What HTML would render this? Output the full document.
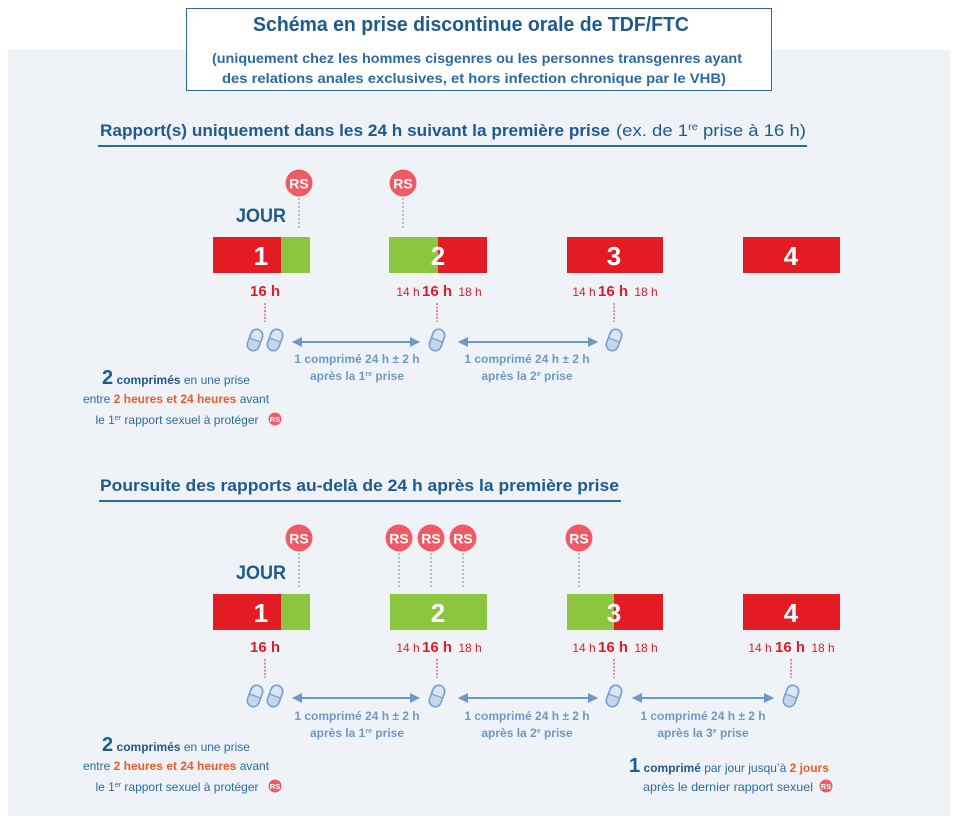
<!DOCTYPE html>
<html><head><meta charset="utf-8"><style>
html,body{margin:0;padding:0;background:#fff;}
svg{display:block;font-family:"Liberation Sans",sans-serif;}
.b{font-weight:bold}
</style></head><body>
<svg width="956" height="818" viewBox="0 0 956 818" xmlns="http://www.w3.org/2000/svg">
<defs>
<g id="pill">
  <g transform="rotate(20)">
    <rect x="-6" y="-11" width="12" height="22" rx="6" fill="#dbe6f4" stroke="#7a9fcf" stroke-width="1.5"/>
    <path d="M-6 0 V5 A6 6 0 0 0 6 5 V0 Z" fill="#c4d6ee"/>
    <rect x="-6" y="-11" width="12" height="22" rx="6" fill="none" stroke="#7a9fcf" stroke-width="1.5"/>
    <line x1="-6" y1="0" x2="6" y2="0" stroke="#7a9fcf" stroke-width="1.3"/>
  </g>
</g>
<g id="rs">
  <circle r="13.5" fill="#ef5b65"/>
  <text y="5.5" text-anchor="middle" font-size="14" font-weight="bold" fill="#fff">RS</text>
</g>
<g id="rss">
  <circle r="6.5" fill="#ef5b65"/>
  <text y="3" text-anchor="middle" font-size="7.5" font-weight="bold" fill="#fff">RS</text>
</g>
<marker id="ah" viewBox="0 0 10 10" refX="9" refY="5" markerWidth="5" markerHeight="5" orient="auto-start-reverse">
  <path d="M0 0 L10 5 L0 10 Z" fill="#6d98cc"/>
</marker>
</defs>

<rect x="8" y="50" width="942" height="766" fill="#eff3f8"/>
<rect x="186.5" y="8.5" width="585" height="82" fill="#fff" stroke="#2a6aa3" stroke-width="1"/>
<text x="471" y="31" text-anchor="middle" class="b" font-size="20" fill="#1d5a8e" textLength="436" lengthAdjust="spacingAndGlyphs">Schéma en prise discontinue orale de TDF/FTC</text>
<text x="477" y="63" text-anchor="middle" class="b" font-size="14" fill="#2a6aa3" textLength="530" lengthAdjust="spacingAndGlyphs">(uniquement chez les hommes cisgenres ou les personnes transgenres ayant</text>
<text x="474" y="83" text-anchor="middle" class="b" font-size="14" fill="#2a6aa3" textLength="504" lengthAdjust="spacingAndGlyphs">des relations anales exclusives, et hors infection chronique par le VHB)</text>

<text x="100" y="136" class="b" font-size="17" fill="#1d5a8e" textLength="510" lengthAdjust="spacingAndGlyphs">Rapport(s) uniquement dans les 24 h suivant la première prise</text>
<text x="616" y="136" font-size="17" fill="#1d5a8e" textLength="190" lengthAdjust="spacingAndGlyphs">(ex. de 1<tspan font-size="10" dy="-6">re</tspan><tspan dy="6"> prise à 16 h)</tspan></text>
<rect x="98" y="145" width="709" height="2" fill="#2a6aa3"/>

<text x="236" y="222" class="b" font-size="19" fill="#1d5a8e" textLength="50" lengthAdjust="spacingAndGlyphs">JOUR</text>

<use href="#rs" x="299" y="183"/>
<use href="#rs" x="403" y="183"/>
<line x1="299" y1="198" x2="299" y2="230" stroke="#6d8fb8" stroke-width="1" stroke-dasharray="2,2"/>
<line x1="403" y1="198" x2="403" y2="230" stroke="#6d8fb8" stroke-width="1" stroke-dasharray="2,2"/>
<rect x="213" y="237" width="68" height="36" fill="#e31b23"/><rect x="281" y="237" width="29" height="36" fill="#8cc63f"/>
<rect x="389" y="237" width="49" height="36" fill="#8cc63f"/><rect x="438" y="237" width="49" height="36" fill="#e31b23"/>
<rect x="567" y="237" width="96" height="36" fill="#e31b23"/>
<rect x="743" y="237" width="97" height="36" fill="#e31b23"/>
<g class="b" font-size="26" fill="#fff" text-anchor="middle">
<text x="261" y="265">1</text><text x="438" y="265">2</text><text x="614" y="265">3</text><text x="791" y="265">4</text>
</g>
<g fill="#e31b23" text-anchor="middle">
<text x="265" y="296" class="b" font-size="15">16 h</text>
<text x="408" y="296" font-size="12">14 h</text><text x="437" y="296" class="b" font-size="15">16 h</text><text x="470" y="296" font-size="12">18 h</text>
<text x="584" y="296" font-size="12">14 h</text><text x="613" y="296" class="b" font-size="15">16 h</text><text x="646" y="296" font-size="12">18 h</text>
</g>
<g stroke="#e31b23" stroke-width="1" stroke-dasharray="2,1.5">
<line x1="265" y1="303" x2="265" y2="322"/><line x1="437" y1="303" x2="437" y2="322"/><line x1="614" y1="303" x2="614" y2="322"/>
</g>
<use href="#pill" x="255" y="340"/><use href="#pill" x="275" y="340"/>
<use href="#pill" x="437" y="340"/><use href="#pill" x="614" y="340"/>
<g stroke="#6d98cc" stroke-width="2" marker-start="url(#ah)" marker-end="url(#ah)">
<line x1="293" y1="342" x2="419" y2="342"/><line x1="459" y1="342" x2="597" y2="342"/>
</g>
<g class="b" font-size="12" fill="#6d98cc" text-anchor="middle">
<text x="357" y="363">1 comprimé 24 h ± 2 h</text><text x="357" y="380">après la 1<tspan font-size="7" dy="-4">re</tspan><tspan dy="4"> prise</tspan></text>
<text x="527" y="363">1 comprimé 24 h ± 2 h</text><text x="527" y="380">après la 2<tspan font-size="7" dy="-4">e</tspan><tspan dy="4"> prise</tspan></text>
</g>
<g font-size="12" fill="#2a6aa3" text-anchor="middle">
<text x="176" y="384"><tspan class="b" font-size="20" fill="#1d5a8e">2</tspan> <tspan class="b" fill="#1d5a8e">comprimés</tspan> en une prise</text>
<text x="176" y="403">entre <tspan class="b" fill="#f15a24">2 heures et 24 heures</tspan> avant</text>
<text x="177" y="424">le 1<tspan font-size="7" dy="-4">er</tspan><tspan dy="4"> rapport sexuel à protéger</tspan></text>
</g>
<use href="#rss" x="275" y="419"/>

<text x="100" y="491" class="b" font-size="17" fill="#1d5a8e" textLength="519" lengthAdjust="spacingAndGlyphs">Poursuite des rapports au-delà de 24 h après la première prise</text>
<rect x="99" y="500" width="522" height="2" fill="#2a6aa3"/>
<text x="236" y="579" class="b" font-size="19" fill="#1d5a8e" textLength="50" lengthAdjust="spacingAndGlyphs">JOUR</text>

<use href="#rs" x="299" y="538"/>
<use href="#rs" x="399" y="538"/><use href="#rs" x="431" y="538"/><use href="#rs" x="463" y="538"/>
<use href="#rs" x="579" y="538"/>
<g stroke="#6d8fb8" stroke-width="1" stroke-dasharray="2,2">
<line x1="299" y1="553" x2="299" y2="587"/><line x1="399" y1="553" x2="399" y2="587"/><line x1="431" y1="553" x2="431" y2="587"/><line x1="463" y1="553" x2="463" y2="587"/><line x1="579" y1="553" x2="579" y2="587"/>
</g>
<rect x="213" y="594" width="68" height="36" fill="#e31b23"/><rect x="281" y="594" width="29" height="36" fill="#8cc63f"/>
<rect x="390" y="594" width="97" height="36" fill="#8cc63f"/>
<rect x="567" y="594" width="47" height="36" fill="#8cc63f"/><rect x="614" y="594" width="49" height="36" fill="#e31b23"/>
<rect x="743" y="594" width="97" height="36" fill="#e31b23"/>
<g class="b" font-size="26" fill="#fff" text-anchor="middle">
<text x="261" y="622">1</text><text x="438" y="622">2</text><text x="614" y="622">3</text><text x="791" y="622">4</text>
</g>
<g fill="#e31b23" text-anchor="middle">
<text x="265" y="652" class="b" font-size="15">16 h</text>
<text x="408" y="652" font-size="12">14 h</text><text x="437" y="652" class="b" font-size="15">16 h</text><text x="470" y="652" font-size="12">18 h</text>
<text x="584" y="652" font-size="12">14 h</text><text x="613" y="652" class="b" font-size="15">16 h</text><text x="646" y="652" font-size="12">18 h</text>
<text x="760" y="652" font-size="12">14 h</text><text x="790" y="652" class="b" font-size="15">16 h</text><text x="823" y="652" font-size="12">18 h</text>
</g>
<g stroke="#e31b23" stroke-width="1" stroke-dasharray="2,1.5">
<line x1="265" y1="659" x2="265" y2="678"/><line x1="437" y1="659" x2="437" y2="678"/><line x1="614" y1="659" x2="614" y2="678"/><line x1="791" y1="659" x2="791" y2="678"/>
</g>
<use href="#pill" x="255" y="696"/><use href="#pill" x="275" y="696"/>
<use href="#pill" x="437" y="696"/><use href="#pill" x="614" y="696"/><use href="#pill" x="791" y="696"/>
<g stroke="#6d98cc" stroke-width="2" marker-start="url(#ah)" marker-end="url(#ah)">
<line x1="293" y1="698" x2="419" y2="698"/><line x1="459" y1="698" x2="597" y2="698"/><line x1="633" y1="698" x2="773" y2="698"/>
</g>
<g class="b" font-size="12" fill="#6d98cc" text-anchor="middle">
<text x="357" y="720">1 comprimé 24 h ± 2 h</text><text x="357" y="737">après la 1<tspan font-size="7" dy="-4">re</tspan><tspan dy="4"> prise</tspan></text>
<text x="527" y="720">1 comprimé 24 h ± 2 h</text><text x="527" y="737">après la 2<tspan font-size="7" dy="-4">e</tspan><tspan dy="4"> prise</tspan></text>
<text x="703" y="720">1 comprimé 24 h ± 2 h</text><text x="703" y="737">après la 3<tspan font-size="7" dy="-4">e</tspan><tspan dy="4"> prise</tspan></text>
</g>
<g font-size="12" fill="#2a6aa3" text-anchor="middle">
<text x="176" y="751"><tspan class="b" font-size="20" fill="#1d5a8e">2</tspan> <tspan class="b" fill="#1d5a8e">comprimés</tspan> en une prise</text>
<text x="176" y="770">entre <tspan class="b" fill="#f15a24">2 heures et 24 heures</tspan> avant</text>
<text x="177" y="791">le 1<tspan font-size="7" dy="-4">er</tspan><tspan dy="4"> rapport sexuel à protéger</tspan></text>
<text x="729" y="772"><tspan class="b" font-size="20" fill="#1d5a8e">1</tspan> <tspan class="b" fill="#1d5a8e">comprimé</tspan> par jour jusqu’à <tspan class="b" fill="#f15a24">2 jours</tspan></text>
<text x="728" y="791" textLength="170" lengthAdjust="spacingAndGlyphs">après le dernier rapport sexuel</text>
</g>
<use href="#rss" x="275" y="786"/>
<use href="#rss" x="826" y="786"/>
</svg>
</body></html>
